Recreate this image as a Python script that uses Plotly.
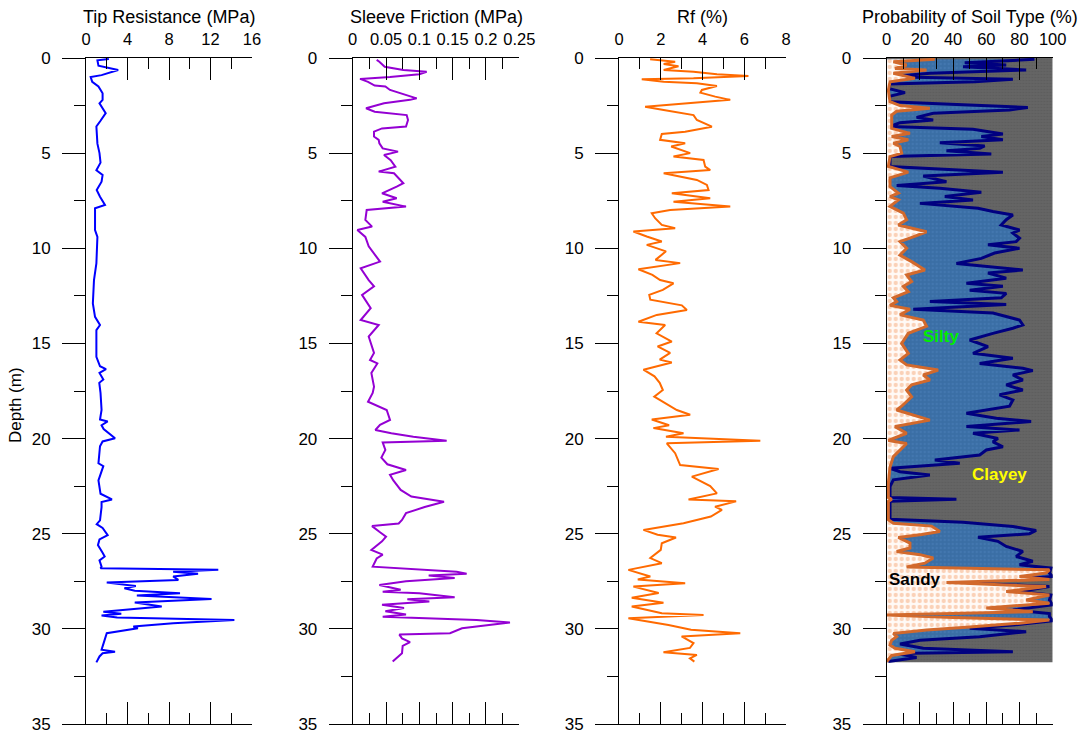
import plotly.graph_objects as go

# ---------------- data ----------------
qc_depth = [
    0.05, 0.12, 0.40, 0.63, 0.90, 1.00, 1.25, 1.50, 1.85, 2.20,
    2.38, 2.90, 3.30, 3.60, 4.50, 5.00, 5.50, 5.90, 6.15, 6.50,
    6.94, 7.29, 7.72, 7.90, 9.04, 9.40, 10.80, 11.67, 12.90, 13.60,
    14.03, 14.30, 15.70, 16.20, 16.35, 16.55, 16.90, 17.07, 17.60, 18.50,
    19.00, 19.10, 19.30, 19.50, 19.98, 20.15, 20.40, 21.30, 21.45, 22.20,
    22.90, 23.20, 23.33, 23.60, 24.30, 24.50, 24.70, 25.07, 25.30, 25.60,
    26.00, 26.20, 26.40, 26.73, 26.82, 26.90, 27.00, 27.10, 27.25, 27.43,
    27.57, 27.75, 27.87, 28.00, 28.13, 28.25, 28.43, 28.62, 28.83, 29.10,
    29.20, 29.30, 29.40, 29.53, 29.70, 29.88, 29.97, 30.23, 30.75, 31.10,
    31.20, 31.28, 31.45, 31.76]
qc_value = [
    2.2, 1.1, 1.2, 3.1, 1.5, 0.45, 0.6, 1.2, 1.6, 1.6,
    1.3, 1.9, 1.4, 1.0, 1.1, 1.3, 1.4, 1.0, 1.6, 1.5,
    1.03, 1.35, 1.83, 0.87, 0.87, 1.1, 1.0, 0.77, 0.66, 0.87,
    1.35, 1.0, 1.0, 1.35, 1.93, 1.3, 1.67, 1.28, 1.4, 1.5,
    1.35, 2.09, 1.5, 1.7, 2.8, 1.6, 1.35, 1.2, 1.67, 1.2,
    1.4, 2.5, 1.5, 1.5, 1.35, 1.03, 1.6, 2.09, 1.3, 1.15,
    1.6, 1.8, 1.3, 1.5, 1.4, 12.75, 8.4, 10.8, 8.4, 8.9,
    2.0, 4.8, 3.7, 4.7, 9.06, 4.9, 12.1, 4.7, 7.3, 1.67,
    3.4, 1.5, 3.0, 14.3, 8.4, 4.56, 5.0, 2.0, 1.7, 1.5,
    2.8, 1.6, 1.3, 1.0]

fs_depth = [
    0.10, 0.20, 0.46, 0.63, 0.72, 0.85, 1.00, 1.10, 1.25, 1.45,
    1.50, 1.68, 2.12, 2.20, 2.38, 2.64, 2.82, 3.00, 3.26, 3.60,
    3.70, 3.87, 4.13, 4.30, 4.48, 4.75, 4.92, 5.10, 5.37, 5.71,
    5.97, 6.06, 6.58, 6.76, 7.11, 7.37, 7.55, 7.81, 7.99, 8.51,
    8.86, 9.04, 9.40, 9.90, 10.70, 11.05, 11.67, 12.00, 12.45, 13.15,
    13.77, 14.03, 14.64, 15.50, 15.87, 16.05, 16.55, 17.27, 17.60, 18.06,
    18.50, 19.02, 19.28, 19.55, 19.72, 19.90, 20.11, 20.20, 20.60, 21.00,
    21.35, 21.65, 21.90, 22.20, 22.70, 23.05, 23.32, 23.60, 23.92, 24.28,
    24.46, 24.60, 24.90, 25.15, 25.40, 25.67, 25.85, 26.10, 26.30, 26.73,
    27.00, 27.10, 27.20, 27.33, 27.50, 27.70, 27.95, 28.05, 28.13, 28.34,
    28.45, 28.56, 28.73, 28.90, 29.07, 29.25, 29.36, 29.53, 29.67, 29.97,
    30.23, 30.30, 30.50, 30.70, 30.90, 31.28, 31.45, 31.72]
fs_value = [
    0.036, 0.040, 0.048, 0.076, 0.111, 0.100, 0.056, 0.011, 0.023, 0.033,
    0.049, 0.056, 0.096, 0.086, 0.047, 0.020, 0.033, 0.081, 0.083, 0.080,
    0.044, 0.032, 0.032, 0.039, 0.040, 0.045, 0.068, 0.047, 0.057, 0.064,
    0.039, 0.062, 0.076, 0.066, 0.044, 0.066, 0.045, 0.080, 0.021, 0.019,
    0.029, 0.007, 0.019, 0.024, 0.041, 0.012, 0.024, 0.032, 0.014, 0.027,
    0.012, 0.039, 0.024, 0.032, 0.026, 0.037, 0.028, 0.032, 0.030, 0.023,
    0.051, 0.056, 0.041, 0.034, 0.058, 0.091, 0.141, 0.045, 0.049, 0.043,
    0.052, 0.080, 0.056, 0.061, 0.072, 0.088, 0.137, 0.108, 0.080, 0.074,
    0.069, 0.029, 0.040, 0.050, 0.044, 0.034, 0.028, 0.045, 0.036, 0.030,
    0.156, 0.171, 0.114, 0.153, 0.080, 0.040, 0.072, 0.045, 0.100, 0.153,
    0.082, 0.115, 0.044, 0.077, 0.049, 0.080, 0.045, 0.186, 0.236, 0.164,
    0.146, 0.070, 0.074, 0.086, 0.075, 0.074, 0.069, 0.060]

rf_depth = [
    0.07, 0.20, 0.32, 0.43, 0.63, 0.72, 0.85, 0.95, 1.07, 1.12,
    1.25, 1.33, 1.47, 1.68, 1.82, 2.03, 2.20, 2.38, 2.56, 2.73,
    3.00, 3.26, 3.61, 3.87, 3.99, 4.30, 4.48, 4.65, 5.00, 5.18,
    5.36, 5.71, 5.89, 6.06, 6.41, 6.67, 6.94, 7.11, 7.37, 7.55,
    7.81, 7.99, 8.16, 8.42, 8.77, 8.95, 9.12, 9.38, 9.64, 9.82,
    10.16, 10.61, 10.78, 11.10, 11.40, 11.67, 11.84, 12.19, 12.45, 12.70,
    13.00, 13.24, 13.50, 13.86, 14.03, 14.47, 14.90, 15.16, 15.50, 15.85,
    16.00, 16.38, 16.73, 17.07, 17.45, 17.80, 18.15, 18.50, 18.75, 19.00,
    19.30, 19.45, 19.72, 19.90, 20.12, 20.25, 20.77, 21.39, 21.60, 22.00,
    22.50, 22.88, 23.20, 23.30, 23.58, 23.75, 24.10, 24.45, 24.80, 25.05,
    25.20, 25.50, 25.85, 26.28, 26.55, 26.90, 27.25, 27.40, 27.60, 27.78,
    28.12, 28.37, 28.63, 28.83, 29.18, 29.27, 29.44, 29.80, 30.05, 30.23,
    30.40, 30.75, 31.00, 31.23, 31.37, 31.55, 31.72]
rf_value = [
    1.49, 2.69, 2.14, 2.85, 2.14, 3.57, 4.69, 6.20, 3.57, 1.09,
    2.14, 3.73, 4.69, 3.97, 3.90, 4.61, 5.33, 3.41, 1.25, 2.14,
    3.57, 3.73, 4.45, 3.17, 2.05, 1.97, 3.17, 2.50, 3.41, 2.61,
    4.05, 4.13, 4.37, 2.14, 3.73, 4.21, 4.29, 2.53, 4.37, 2.61,
    5.33, 2.45, 1.57, 1.73, 2.05, 2.69, 0.69, 1.33, 2.05, 1.33,
    2.25, 1.75, 2.93, 0.93, 1.60, 1.97, 2.61, 2.10, 1.45, 1.50,
    3.01, 3.25, 1.81, 0.93, 2.21, 1.80, 2.53, 1.85, 2.45, 1.95,
    2.53, 1.17, 1.70, 1.95, 2.10, 1.69, 2.25, 2.77, 3.41, 1.57,
    2.40, 1.65, 3.09, 2.25, 6.77, 2.29, 2.69, 2.93, 4.77, 3.49,
    4.37, 4.69, 3.33, 5.61, 4.60, 4.93, 4.40, 3.09, 1.17, 1.85,
    2.73, 2.05, 2.00, 1.50, 2.05, 0.45, 1.50, 0.90, 3.17, 0.69,
    1.90, 0.61, 2.13, 0.61, 2.05, 4.05, 0.45, 2.37, 3.45, 5.81,
    3.00, 3.57, 3.40, 2.13, 3.73, 3.40, 3.61]

# probability of soil type: cumulative boundaries (sandy | sandy+silty | 100)
sandy_depth = [
    0.07, 0.20, 0.37, 0.55, 0.63, 0.80, 1.07, 1.25, 1.70, 2.30,
    2.50, 2.64, 2.80, 3.00, 3.70, 3.96, 4.13, 4.30, 4.48, 4.65,
    5.00, 5.18, 5.70, 6.00, 6.30, 6.76, 7.10, 7.28, 7.46, 7.80,
    8.15, 8.50, 8.78, 9.13, 9.40, 9.65, 10.00, 10.36, 10.70, 11.14,
    11.40, 11.75, 12.00, 12.28, 12.60, 12.80, 13.00, 13.20, 13.50, 13.77,
    14.10, 14.47, 15.00, 15.52, 15.87, 16.13, 16.40, 16.66, 16.92, 17.18,
    17.45, 17.80, 18.30, 18.50, 19.03, 19.37, 19.72, 20.10, 20.26, 20.60,
    20.95, 21.50, 22.35, 23.10, 23.19, 23.30, 24.27, 24.45, 24.60, 24.88,
    25.04, 25.20, 25.49, 25.75, 25.93, 26.10, 26.28, 26.55, 26.75, 26.90,
    27.07, 27.25, 27.40, 27.57, 27.78, 28.04, 28.22, 28.48, 28.65, 28.90,
    29.10, 29.27, 29.40, 29.54, 29.70, 29.90, 30.06, 30.24, 30.41, 30.60,
    30.85, 31.02, 31.20, 31.40, 31.72]
sandy_value = [
    29, 4, 12, 5, 24, 4, 17, 2, 1, 2,
    8, 26, 6, 3, 3, 14, 3, 13, 4, 8,
    9, 2, 1, 13, 2, 2, 7, 2, 7, 2,
    10, 12, 7, 24, 16, 8, 12, 8, 15, 23,
    12, 15, 10, 13, 4, 6, 2, 14, 8, 22,
    24, 13, 9, 13, 8, 12, 31, 22, 26, 15,
    12, 15, 9, 6, 26, 5, 12, 1, 12, 8,
    4, 2, 1, 1, 3, 1, 1, 4, 27, 32,
    21, 7, 14, 14, 6, 20, 28, 23, 12, 98,
    96, 80, 98, 36, 96, 72, 98, 84, 98, 60,
    88, 0, 40, 98, 80, 50, 24, 4, 6, 3,
    2, 5, 17, 3, 0]

silty_top_depth = [
    0.07, 0.25, 0.37, 0.46, 0.63, 0.80, 0.98, 1.12, 1.25, 1.37,
    1.60, 1.82, 2.03, 2.30, 2.60, 2.73, 2.90, 3.12, 3.26, 3.40,
    3.60, 3.75, 3.99, 4.13, 4.30, 4.45, 4.62, 4.75, 4.87, 5.05,
    5.18, 5.70, 6.00, 6.20, 6.50, 6.70, 6.85, 7.05, 7.28, 7.46,
    7.64, 7.90, 8.07, 8.25, 8.50, 8.78, 9.04, 9.20, 9.47, 9.65,
    9.82, 10.00, 10.25, 10.53, 10.80, 10.96, 11.14, 11.30, 11.57, 11.84,
    12.00, 12.20, 12.37, 12.60, 12.80, 12.96, 13.20, 13.40, 13.77, 14.03,
    14.20, 14.47, 14.82, 15.17, 15.52, 15.78, 16.05, 16.30, 16.43, 16.66,
    16.92, 17.18, 17.45, 17.70, 17.97, 18.30, 18.67, 18.93, 19.10, 19.37,
    19.55, 19.72, 20.00, 20.17, 20.43, 20.60, 20.86, 21.13, 21.30, 21.56,
    21.74, 21.91, 22.17, 22.52, 23.10, 23.19, 23.30, 23.90, 24.24, 24.40,
    24.50, 24.62, 24.83, 25.00, 25.19, 25.40, 25.67, 25.93, 26.20, 26.45,
    26.63, 26.81, 27.07, 27.25, 27.57, 27.78, 28.04, 28.22, 28.48, 28.74,
    29.00, 29.20, 29.35, 29.57, 29.80, 29.97, 30.15, 30.41, 30.60, 30.80,
    31.02, 31.20, 31.30, 31.50, 31.72]
silty_top_value = [
    89, 47, 72, 46, 84, 26, 2, 76, 53, 2,
    1, 11, 1, 2, 85, 74, 28, 18, 28, 8,
    2, 52, 70, 57, 70, 32, 59, 56, 36, 63,
    2, 2, 70, 22, 36, 6, 32, 57, 35, 52,
    20, 55, 64, 76, 72, 69, 80, 76, 80, 78,
    61, 80, 65, 57, 42, 61, 82, 61, 72, 48,
    70, 50, 72, 69, 26, 72, 16, 64, 80, 82,
    76, 64, 50, 61, 52, 76, 56, 82, 88, 76,
    82, 72, 82, 68, 76, 74, 48, 66, 87, 48,
    80, 52, 67, 64, 70, 60, 56, 29, 44, 2,
    8, 26, 4, 2, 2, 42, 2, 2, 2, 46,
    60, 76, 90, 86, 55, 67, 72, 82, 78, 88,
    80, 99, 98, 100, 44, 98, 80, 99, 98, 100,
    76, 98, 98, 100, 76, 50, 84, 56, 20, 8,
    22, 76, 6, 18, 1]

clayey_depth = [0.0, 31.75]
clayey_value = [100, 100]

panel_titles = ["Tip Resistance (MPa)", "Sleeve Friction (MPa)", "Rf (%)",
                "Probability of Soil Type (%)"]
x_ranges = [[0, 16], [0, 0.25], [0, 8], [0, 100]]
x_dticks = [4, 0.05, 2, 20]
depth_range = [35, 0]
soil_labels = ["Silty", "Clayey", "Sandy"]
soil_label_pos = [(33, 14.65), (68, 21.9), (17, 27.4)]
soil_label_colors = ["#00ee00", "#ffff00", "#000000"]

# ---------------- layout ----------------
W, H = 1086, 736
FONT = "Arial, Liberation Sans, sans-serif"
panels_px = [(86, 252), (352.7, 519.3), (619, 786), (886.7, 1052.7)]
top_px, bot_px = 58, 724
ydom = [1 - bot_px / H, 1 - top_px / H]

fig = go.Figure()
layout = dict(width=W, height=H, margin=dict(l=0, r=0, t=0, b=0, autoexpand=False),
              paper_bgcolor="white", plot_bgcolor="rgba(0,0,0,0)",
              showlegend=False, font=dict(family=FONT, color="black"))

for i, (x0, x1) in enumerate(panels_px, start=1):
    sx = "" if i == 1 else str(i)
    layout["xaxis" + sx] = dict(
        domain=[x0 / W, x1 / W], anchor="y" + sx if i > 1 else "y", side="top",
        range=x_ranges[i - 1], tick0=0, dtick=x_dticks[i - 1],
        ticks="inside", ticklen=22, tickwidth=1, tickcolor="black",
        minor=dict(dtick=x_dticks[i - 1] / 2, ticks="inside", ticklen=11,
                   tickwidth=1, tickcolor="black"),
        showline=True, linecolor="black", linewidth=1, mirror="ticks",
        showgrid=False, zeroline=False, tickangle=0, automargin=False,
        tickfont=dict(size=16.5, family=FONT), ticklabelstandoff=5,
        fixedrange=True)
    layout["yaxis" + sx] = dict(
        domain=ydom, anchor="x" + sx if i > 1 else "x",
        range=depth_range, tick0=0, dtick=5,
        ticks="outside", ticklen=23, tickwidth=1, tickcolor="black",
        minor=dict(dtick=2.5, ticks="outside", ticklen=11, tickwidth=1,
                   tickcolor="black"),
        showline=True, linecolor="black", linewidth=1, automargin=False,
        showgrid=False, zeroline=False,
        tickfont=dict(size=17, family=FONT), ticklabelstandoff=8,
        fixedrange=True)
    layout["yaxis" + str(i + 4)] = dict(
        overlaying="y" if i == 1 else "y" + sx, anchor="x" if i == 1 else "x" + sx,
        side="right", range=depth_range, tick0=0, dtick=5,
        ticks="inside", ticklen=22, tickwidth=1, tickcolor="black",
        minor=dict(dtick=2.5, ticks="inside", ticklen=11, tickwidth=1,
                   tickcolor="black"),
        showticklabels=False, showline=True, linecolor="black", linewidth=1,
        showgrid=False, zeroline=False, fixedrange=True, automargin=False)

fig.update_layout(**layout)

# ---------------- traces ----------------
fig.add_trace(go.Scatter(x=qc_value, y=qc_depth, mode="lines",
                         line=dict(color="#0000ff", width=2), xaxis="x", yaxis="y"))
fig.add_trace(go.Scatter(x=fs_value, y=fs_depth, mode="lines",
                         line=dict(color="#9400d3", width=2), xaxis="x2", yaxis="y2"))
fig.add_trace(go.Scatter(x=rf_value, y=rf_depth, mode="lines",
                         line=dict(color="#ff6a00", width=2), xaxis="x3", yaxis="y3"))

fig.add_trace(go.Scatter(x=clayey_value, y=clayey_depth, mode="lines",
                         line=dict(width=0, color="#656565"), fill="tozerox",
                         fillcolor="#656565",
                         fillpattern=dict(shape=".", fgcolor="#555555", bgcolor="#656565",
                                          size=3, solidity=0.35),
                         xaxis="x4", yaxis="y4"))
fig.add_trace(go.Scatter(x=silty_top_value, y=silty_top_depth, mode="lines",
                         line=dict(width=3, color="#000080"), fill="tozerox",
                         fillcolor="#3a6ea5",
                         fillpattern=dict(shape=".", fgcolor="#4c80b8", bgcolor="#3a6ea5",
                                          size=4, solidity=0.3),
                         xaxis="x4", yaxis="y4"))
fig.add_trace(go.Scatter(x=sandy_value, y=sandy_depth, mode="lines",
                         line=dict(width=3, color="#d2692c"), fill="tozerox",
                         fillcolor="#fff2ea",
                         fillpattern=dict(shape=".", fgcolor="#f5a878", bgcolor="#fffaf6",
                                          size=6, solidity=0.4),
                         xaxis="x4", yaxis="y4"))

annotations = []
for (x0, x1), t in zip(panels_px, panel_titles):
    annotations.append(dict(text=t, x=(x0 + x1) / 2 / W, y=1 - 17 / H,
                            xref="paper", yref="paper", showarrow=False,
                            xanchor="center", yanchor="middle",
                            font=dict(size=18, family=FONT, color="black")))
annotations.append(dict(text="Depth (m)", x=15 / W, y=1 - 405 / H, xref="paper",
                        yref="paper", showarrow=False, textangle=-90,
                        xanchor="center", yanchor="middle",
                        font=dict(size=17, family=FONT, color="black")))
for lbl, (px, dy), col in zip(soil_labels, soil_label_pos, soil_label_colors):
    annotations.append(dict(text="<b>" + lbl + "</b>", x=px, y=dy, xref="x4", yref="y4",
                            showarrow=False, xanchor="center", yanchor="middle",
                            font=dict(size=17, family=FONT, color=col)))
fig.update_layout(annotations=annotations)

fig.write_html("out.html")
